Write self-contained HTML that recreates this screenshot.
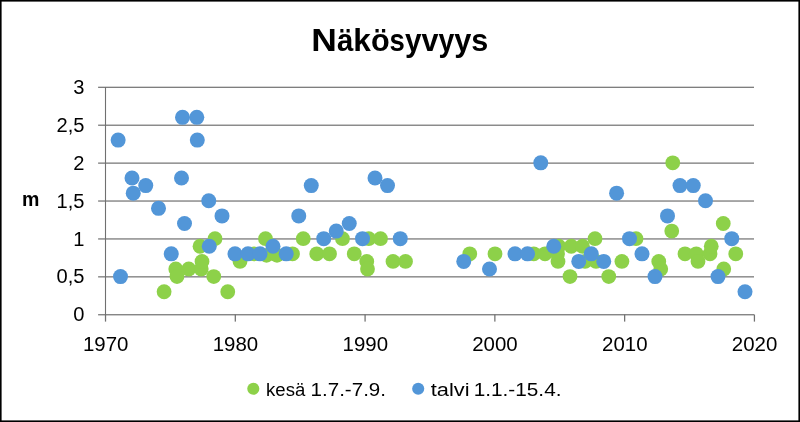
<!DOCTYPE html>
<html><head><meta charset="utf-8"><title>Näkösyvyys</title>
<style>
html,body{margin:0;padding:0;background:#fff;}
body{width:800px;height:422px;overflow:hidden;}
svg{display:block;}
text{font-family:"Liberation Sans",sans-serif;fill:#000;}
.ax{font-size:19.6px;}
.ay{font-size:20.1px;}
.lg{font-size:19.1px;}
.t{font-size:31.4px;font-weight:bold;}
.m{font-size:20px;font-weight:bold;}
</style></head><body>
<svg width="800" height="422" viewBox="0 0 800 422">
<rect x="0" y="0" width="800" height="422" fill="#fff"/>

<rect x="98.1" y="314.16" width="655.9" height="1.2" fill="#707070"/>
<rect x="98.1" y="276.25" width="655.9" height="1.2" fill="#707070"/>
<rect x="98.1" y="238.34" width="655.9" height="1.2" fill="#707070"/>
<rect x="98.1" y="200.43" width="655.9" height="1.2" fill="#707070"/>
<rect x="98.1" y="162.52" width="655.9" height="1.2" fill="#707070"/>
<rect x="98.1" y="124.61" width="655.9" height="1.2" fill="#707070"/>
<rect x="98.1" y="86.70" width="655.9" height="1.2" fill="#707070"/>
<rect x="104.95" y="87" width="1.1" height="228" fill="#707070"/>
<rect x="104.90" y="314.5" width="1.25" height="7.1" fill="#707070"/>
<rect x="234.68" y="314.5" width="1.25" height="7.1" fill="#707070"/>
<rect x="364.46" y="314.5" width="1.25" height="7.1" fill="#707070"/>
<rect x="494.24" y="314.5" width="1.25" height="7.1" fill="#707070"/>
<rect x="624.02" y="314.5" width="1.25" height="7.1" fill="#707070"/>
<rect x="753.80" y="314.5" width="1.25" height="7.1" fill="#707070"/>
<g fill="#8DD149">
<circle cx="164.1" cy="291.75" r="7.4"/>
<circle cx="227.75" cy="291.75" r="7.4"/>
<circle cx="175.75" cy="269.0" r="7.4"/>
<circle cx="177" cy="276.58" r="7.4"/>
<circle cx="188.75" cy="269.0" r="7.4"/>
<circle cx="201.25" cy="269.0" r="7.4"/>
<circle cx="202" cy="261.42" r="7.4"/>
<circle cx="213.75" cy="276.58" r="7.4"/>
<circle cx="200" cy="246.25" r="7.4"/>
<circle cx="215" cy="238.67" r="7.4"/>
<circle cx="240" cy="261.42" r="7.4"/>
<circle cx="265.5" cy="238.67" r="7.4"/>
<circle cx="254" cy="253.84" r="7.4"/>
<circle cx="266.5" cy="255.35" r="7.4"/>
<circle cx="277" cy="255.35" r="7.4"/>
<circle cx="292.5" cy="253.84" r="7.4"/>
<circle cx="303.25" cy="238.67" r="7.4"/>
<circle cx="342.5" cy="238.67" r="7.4"/>
<circle cx="368.75" cy="238.67" r="7.4"/>
<circle cx="380.5" cy="238.67" r="7.4"/>
<circle cx="316.75" cy="253.84" r="7.4"/>
<circle cx="329.5" cy="253.84" r="7.4"/>
<circle cx="354.25" cy="253.84" r="7.4"/>
<circle cx="366.75" cy="261.42" r="7.4"/>
<circle cx="367.5" cy="269.0" r="7.4"/>
<circle cx="393" cy="261.42" r="7.4"/>
<circle cx="405.5" cy="261.42" r="7.4"/>
<circle cx="469.75" cy="253.84" r="7.4"/>
<circle cx="495" cy="253.84" r="7.4"/>
<circle cx="533.75" cy="253.84" r="7.4"/>
<circle cx="545" cy="253.84" r="7.4"/>
<circle cx="558.75" cy="246.25" r="7.4"/>
<circle cx="558" cy="261.42" r="7.4"/>
<circle cx="557.5" cy="253.84" r="7.4"/>
<circle cx="571.25" cy="246.25" r="7.4"/>
<circle cx="582.5" cy="246.25" r="7.4"/>
<circle cx="595" cy="238.67" r="7.4"/>
<circle cx="570" cy="276.58" r="7.4"/>
<circle cx="585" cy="261.42" r="7.4"/>
<circle cx="596" cy="261.42" r="7.4"/>
<circle cx="608.75" cy="276.58" r="7.4"/>
<circle cx="621.9" cy="261.42" r="7.4"/>
<circle cx="636" cy="238.67" r="7.4"/>
<circle cx="658.75" cy="261.42" r="7.4"/>
<circle cx="660.75" cy="269.0" r="7.4"/>
<circle cx="671.75" cy="231.09" r="7.4"/>
<circle cx="672.75" cy="162.84" r="7.4"/>
<circle cx="685" cy="253.84" r="7.4"/>
<circle cx="696.25" cy="253.84" r="7.4"/>
<circle cx="698" cy="261.42" r="7.4"/>
<circle cx="710" cy="253.84" r="7.4"/>
<circle cx="711.25" cy="246.25" r="7.4"/>
<circle cx="723.75" cy="269.0" r="7.4"/>
<circle cx="723.25" cy="223.5" r="7.4"/>
<circle cx="735.75" cy="253.84" r="7.4"/>
</g><g fill="#5296D8">
<circle cx="118.15" cy="140.09" r="7.5"/>
<circle cx="182.5" cy="117.34" r="7.5"/>
<circle cx="196.8" cy="117.34" r="7.5"/>
<circle cx="197.3" cy="140.09" r="7.5"/>
<circle cx="132" cy="178.01" r="7.5"/>
<circle cx="145.75" cy="185.59" r="7.5"/>
<circle cx="133.25" cy="193.17" r="7.5"/>
<circle cx="181.5" cy="178.01" r="7.5"/>
<circle cx="158.5" cy="208.34" r="7.5"/>
<circle cx="208.75" cy="200.75" r="7.5"/>
<circle cx="222" cy="215.92" r="7.5"/>
<circle cx="184.5" cy="223.5" r="7.5"/>
<circle cx="298.75" cy="215.92" r="7.5"/>
<circle cx="120.5" cy="276.58" r="7.5"/>
<circle cx="171.25" cy="253.84" r="7.5"/>
<circle cx="209.25" cy="246.25" r="7.5"/>
<circle cx="235" cy="253.84" r="7.5"/>
<circle cx="248" cy="253.84" r="7.5"/>
<circle cx="260" cy="253.84" r="7.5"/>
<circle cx="273" cy="246.25" r="7.5"/>
<circle cx="286.2" cy="253.84" r="7.5"/>
<circle cx="311.25" cy="185.59" r="7.5"/>
<circle cx="375" cy="178.01" r="7.5"/>
<circle cx="387.5" cy="185.59" r="7.5"/>
<circle cx="349.25" cy="223.5" r="7.5"/>
<circle cx="336.25" cy="231.09" r="7.5"/>
<circle cx="323.75" cy="238.67" r="7.5"/>
<circle cx="362.5" cy="238.67" r="7.5"/>
<circle cx="400.25" cy="238.67" r="7.5"/>
<circle cx="463.75" cy="261.42" r="7.5"/>
<circle cx="489.5" cy="269.0" r="7.5"/>
<circle cx="540.75" cy="162.84" r="7.5"/>
<circle cx="616.6" cy="193.17" r="7.5"/>
<circle cx="667.5" cy="215.92" r="7.5"/>
<circle cx="629.5" cy="238.67" r="7.5"/>
<circle cx="553.75" cy="246.25" r="7.5"/>
<circle cx="515" cy="253.84" r="7.5"/>
<circle cx="527.5" cy="253.84" r="7.5"/>
<circle cx="578.75" cy="261.42" r="7.5"/>
<circle cx="591.25" cy="253.84" r="7.5"/>
<circle cx="603.75" cy="261.42" r="7.5"/>
<circle cx="642" cy="253.84" r="7.5"/>
<circle cx="655" cy="276.58" r="7.5"/>
<circle cx="680" cy="185.59" r="7.5"/>
<circle cx="693.25" cy="185.59" r="7.5"/>
<circle cx="705.5" cy="200.75" r="7.5"/>
<circle cx="731.75" cy="238.67" r="7.5"/>
<circle cx="718" cy="276.58" r="7.5"/>
<circle cx="745" cy="291.75" r="7.5"/>
</g>
<text class="ay" x="84.4" y="321.4" text-anchor="end">0</text>
<text class="ay" x="84.4" y="283.4" text-anchor="end">0,5</text>
<text class="ay" x="84.4" y="245.5" text-anchor="end">1</text>
<text class="ay" x="84.4" y="207.6" text-anchor="end">1,5</text>
<text class="ay" x="84.4" y="169.7" text-anchor="end">2</text>
<text class="ay" x="84.4" y="131.8" text-anchor="end">2,5</text>
<text class="ay" x="84.4" y="93.9" text-anchor="end">3</text>
<text class="ax" x="105.7" y="350.6" text-anchor="middle" textLength="45.5" lengthAdjust="spacingAndGlyphs">1970</text>
<text class="ax" x="235.5" y="350.6" text-anchor="middle" textLength="45.5" lengthAdjust="spacingAndGlyphs">1980</text>
<text class="ax" x="365.3" y="350.6" text-anchor="middle" textLength="45.5" lengthAdjust="spacingAndGlyphs">1990</text>
<text class="ax" x="495.0" y="350.6" text-anchor="middle" textLength="45.5" lengthAdjust="spacingAndGlyphs">2000</text>
<text class="ax" x="624.8" y="350.6" text-anchor="middle" textLength="45.5" lengthAdjust="spacingAndGlyphs">2010</text>
<text class="ax" x="754.6" y="350.6" text-anchor="middle" textLength="45.5" lengthAdjust="spacingAndGlyphs">2020</text>
<text class="t" y="50.65"><tspan x="311.3" textLength="25.6" lengthAdjust="spacingAndGlyphs">N</tspan><tspan x="336.9" textLength="16.4" lengthAdjust="spacingAndGlyphs">ä</tspan><tspan x="353.3" textLength="17.6" lengthAdjust="spacingAndGlyphs">k</tspan><tspan x="370.9" textLength="18.7" lengthAdjust="spacingAndGlyphs">ö</tspan><tspan x="389.6" textLength="15.3" lengthAdjust="spacingAndGlyphs">s</tspan><tspan x="404.9" textLength="16.5" lengthAdjust="spacingAndGlyphs">y</tspan><tspan x="421.4" textLength="17.0" lengthAdjust="spacingAndGlyphs">v</tspan><tspan x="438.4" textLength="15.8" lengthAdjust="spacingAndGlyphs">y</tspan><tspan x="454.2" textLength="17.1" lengthAdjust="spacingAndGlyphs">y</tspan><tspan x="471.3" textLength="17.0" lengthAdjust="spacingAndGlyphs">s</tspan></text>
<text class="m" x="22" y="205.8" textLength="17.4" lengthAdjust="spacingAndGlyphs">m</text>
<circle cx="253.3" cy="388.7" r="6.05" fill="#8DD149"/>
<text class="lg" y="395.65"><tspan x="266.1" textLength="39.2" lengthAdjust="spacingAndGlyphs">kesä</tspan> <tspan x="310.6" textLength="75.4" lengthAdjust="spacingAndGlyphs">1.7.-7.9.</tspan></text>
<circle cx="418.2" cy="388.8" r="6.05" fill="#5296D8"/>
<text class="lg" y="395.65"><tspan x="430.8" textLength="38.8" lengthAdjust="spacingAndGlyphs">talvi</tspan> <tspan x="473.7" textLength="87.8" lengthAdjust="spacingAndGlyphs">1.1.-15.4.</tspan></text>
<rect x="0" y="0" width="800" height="1.6" fill="#000"/>
<rect x="0" y="0" width="1.6" height="422" fill="#000"/>
<rect x="798.4" y="0" width="1.6" height="422" fill="#000"/>
<rect x="0" y="420.4" width="800" height="1.6" fill="#000"/>
</svg></body></html>
